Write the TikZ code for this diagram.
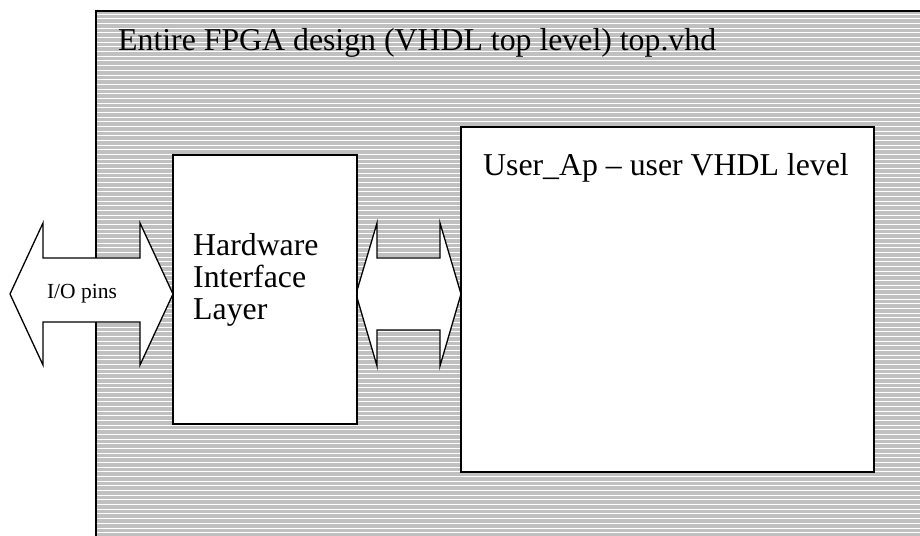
\documentclass[tikz,border=0pt]{standalone}
\usepackage{fontspec}
\setmainfont{Liberation Serif}
\definecolor{hatchgray}{HTML}{C0C0C0}
\tikzset{
  boxstyle/.style={draw=black, line width=1.8pt, fill=white},
  arrowshape/.style={draw=black, line width=1.3pt, fill=white, line join=miter},
  bigtext/.style={font=\fontsize{31.8}{32}\selectfont, inner sep=0pt, anchor=base west, align=left},
  smalltext/.style={font=\fontsize{21.5}{24}\selectfont, inner sep=0pt, anchor=base},
}
\begin{document}
\begin{tikzpicture}[x=1pt,y=-1pt]
\useasboundingbox (0,0) rectangle (920,535);
\clip (0,0) rectangle (920,535);
% outer FPGA region
\fill[hatchgray] (96,11) rectangle (925,540);
\foreach \k in {0,...,112} {
  \draw[white, line width=1pt] (97,14.3+4.67*\k) -- (925,14.3+4.67*\k);
}
\draw[black, line width=2pt] (96,540) -- (96,11) -- (925,11);
\node[bigtext] (title) at (118,51) {Entire FPGA design (VHDL top level) top.vhd};
% arrows
\draw[arrowshape] (10,294) -- (43,223) -- (43,258) -- (140,258) -- (140,223) -- (173,294)
  -- (140,365) -- (140,322) -- (43,322) -- (43,365) -- cycle;
\node[smalltext] (io) at (82,298) {I/O pins};
\draw[arrowshape] (356,294) -- (377,223) -- (377,258) -- (440,258) -- (440,223) -- (461,294)
  -- (440,366) -- (440,330) -- (377,330) -- (377,366) -- cycle;
% boxes
\draw[boxstyle] (173,155) rectangle (357,424);
\node[bigtext] (hil1) at (193,255) {Hardware};
\node[bigtext] (hil2) at (193,287) {Interface};
\node[bigtext] (hil3) at (193,319) {Layer};
\draw[boxstyle] (461,127) rectangle (874,472);
\node[bigtext] (user) at (483,175) {User\_Ap – user VHDL level};
\end{tikzpicture}
\end{document}
